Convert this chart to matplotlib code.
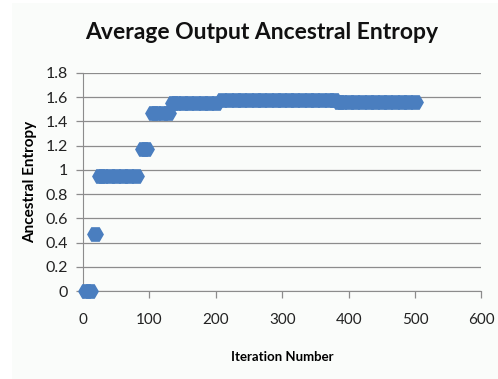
import matplotlib.pyplot as plt
from matplotlib.patches import Rectangle

# data
iterations = [5, 10, 18, 25, 30, 40, 50, 60, 70, 80, 90, 95, 105, 110, 120, 128,
              135, 140, 150, 160, 170, 180, 190, 200,
              210, 220, 230, 240, 250, 260, 270, 280, 290, 300, 310, 320, 330, 340, 350, 360, 370, 378,
              385, 390, 400, 410, 420, 430, 440, 450, 460, 470, 480, 490, 500]
entropy = [0, 0, 0.47, 0.95, 0.95, 0.95, 0.95, 0.95, 0.95, 0.95, 1.17, 1.17, 1.47, 1.47, 1.47, 1.47,
           1.55, 1.55, 1.55, 1.55, 1.55, 1.55, 1.55, 1.55,
           1.575, 1.575, 1.575, 1.575, 1.575, 1.575, 1.575, 1.575, 1.575, 1.575, 1.575, 1.575, 1.575, 1.575, 1.575, 1.575, 1.575, 1.575,
           1.56, 1.56, 1.56, 1.56, 1.56, 1.56, 1.56, 1.56, 1.56, 1.56, 1.56, 1.56, 1.56]

x_ticks = [0, 100, 200, 300, 400, 500, 600]
y_ticks = [0, 0.2, 0.4, 0.6, 0.8, 1, 1.2, 1.4, 1.6, 1.8]

bg = '#fafcfa'
blue = '#4a7ebf'
grid = '#8c8c8c'

fig = plt.figure(figsize=(4.98, 3.79), dpi=100, facecolor='white')
# slightly tinted chart area (starts a little in from the left edge)
fig.patches.append(Rectangle((12 / 498, 0), 1, 1 - 3 / 379, transform=fig.transFigure,
                             facecolor=bg, edgecolor='none', zorder=-10))

ax = fig.add_axes([0.1667, 0.232, 0.800, 0.576], facecolor=bg)

ax.plot(iterations, entropy, linestyle='none', marker='H', markersize=11,
        color=blue, markeredgecolor=blue, clip_on=False, zorder=3)

ax.set_xlim(0, 600)
ax.set_ylim(0, 1.8)
ax.set_xticks(x_ticks)
ax.set_xticklabels([str(t) for t in x_ticks])
ax.set_yticks(y_ticks)
ax.set_yticklabels(['0', '0.2', '0.4', '0.6', '0.8', '1', '1.2', '1.4', '1.6', '1.8'])

ax.yaxis.grid(True, color=grid, linewidth=0.9)
ax.set_axisbelow(True)
for s in ['top', 'right']:
    ax.spines[s].set_visible(False)
for s in ['left', 'bottom']:
    ax.spines[s].set_color(grid)
ax.tick_params(axis='both', colors=grid, length=5, width=0.9, labelsize=11.5)
ax.tick_params(axis='x', pad=11, labelsize=11)
ax.tick_params(axis='y', pad=6)
for lbl in ax.get_xticklabels() + ax.get_yticklabels():
    lbl.set_color('#222222')
    lbl.set_family('Lato')

ax.set_xlabel('Iteration Number', fontsize=9.5, fontweight='bold', family='Lato', labelpad=17)
ax.set_ylabel('Ancestral Entropy', fontsize=11, fontweight='bold', family='Lato', labelpad=6)
fig.text(0.526, 0.913, 'Average Output Ancestral Entropy', ha='center', va='center',
         fontsize=16.5, fontweight='bold', family='Lato', color='#111111')

fig.savefig('out.png', dpi=100, facecolor='white')
